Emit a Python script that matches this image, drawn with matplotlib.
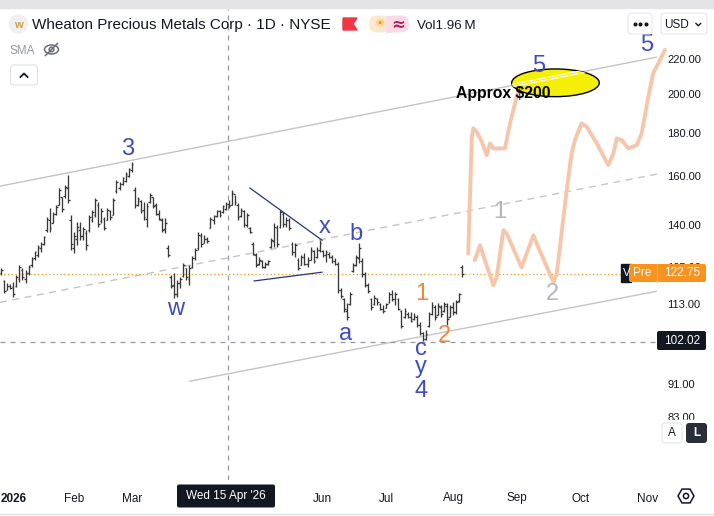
import numpy as np
import matplotlib
matplotlib.use("Agg")
import matplotlib.pyplot as plt
from matplotlib.patches import Ellipse, FancyBboxPatch, Rectangle, Polygon, Circle, RegularPolygon
from matplotlib.ticker import FixedLocator, NullLocator, FuncFormatter

plt.rcParams['font.family'] = ['Liberation Sans', 'DejaVu Sans']

# ------------------------------------------------------------------ data
# bar index 0 = 2 Jan 2026 (trading-day index); first visible bar is late Dec 2025
first_bar = -4
highs = [
    124.6, 120.6, 119.6, 119.2, 119.9, 122.2, 125.6, 124.6, 123.9, 125.6,
    128.3, 130.4, 132.6, 133.7, 135.8, 143.1, 146.7, 145.1, 147.9, 154.8,
    151.2, 156.1, 160.4, 143.9, 137.4, 141.1, 141.1, 139.3, 138.1, 143.9,
    145.9, 150.7, 149.1, 146.7, 143.1, 146.7, 145.9, 150.7, 158.3, 157.4,
    159.6, 161.7, 163.5, 166.2, 155.2, 151.2, 149.9, 149.1, 148.7, 152.8,
    151.2, 148.7, 145.9, 142.7, 142.7, 132.6, 122.2, 122.9, 120.6, 121.6,
    126.3, 124.6, 125.6, 128.7, 131.5, 137.4, 137.0, 136.2, 135.5, 143.1,
    143.9, 145.9, 145.9, 147.9, 149.1, 149.9, 154.0, 152.0, 148.7, 146.7,
    145.9, 144.7, 139.3, 133.7, 129.7, 128.3, 127.3, 126.6, 127.3, 135.1,
    140.8, 140.0, 145.9, 145.1, 143.1, 142.7, 133.7, 133.3, 128.0, 129.0,
    129.7, 128.3, 131.9, 130.8, 131.9, 134.4, 130.8, 130.8, 130.1, 129.0,
    128.0, 126.6, 118.0, 114.8, 113.3, 116.8, 126.3, 129.0, 133.3, 128.0,
    123.2, 119.6, 114.8, 115.8, 114.8, 113.3, 112.7, 113.3, 116.8, 117.3,
    116.8, 114.8, 111.1, 111.7, 110.5, 110.5, 110.2, 109.6, 107.5, 104.6,
    105.2, 110.5, 113.6, 112.7, 113.3, 112.7, 113.6, 113.3, 112.7, 113.6,
    114.2, 116.4, 125.6,
]
lows = [
    122.2, 116.4, 117.3, 117.6, 115.2, 118.3, 119.9, 120.6, 119.6, 122.2,
    124.9, 127.3, 128.3, 130.1, 132.6, 137.4, 137.4, 140.8, 143.9, 147.9,
    145.1, 150.7, 148.7, 130.8, 129.7, 132.6, 134.4, 134.4, 130.8, 137.4,
    141.1, 143.1, 139.3, 140.8, 138.1, 141.9, 141.9, 143.9, 152.8, 154.0,
    156.1, 157.4, 159.6, 161.7, 146.7, 147.5, 144.7, 141.9, 139.3, 148.7,
    146.7, 143.9, 141.9, 137.4, 137.0, 128.3, 117.9, 114.8, 115.2, 117.9,
    121.6, 120.6, 118.9, 124.6, 127.3, 130.8, 131.9, 133.3, 133.3, 138.9,
    140.4, 143.1, 143.1, 144.7, 145.9, 146.7, 147.9, 147.9, 141.9, 143.1,
    139.3, 139.3, 137.0, 129.0, 124.9, 125.6, 124.6, 124.6, 125.6, 131.5,
    131.9, 131.9, 138.9, 139.3, 139.3, 138.1, 129.0, 128.3, 123.9, 125.6,
    125.6, 124.9, 127.3, 126.3, 128.0, 130.1, 128.3, 126.6, 128.0, 126.3,
    125.6, 116.4, 114.8, 110.5, 108.1, 112.7, 123.2, 125.3, 126.3, 121.6,
    118.3, 116.4, 111.1, 112.7, 112.7, 111.1, 110.2, 111.7, 113.3, 113.9,
    112.7, 111.1, 105.8, 108.7, 108.7, 107.5, 108.1, 106.1, 103.8, 102.1,
    102.4, 106.1, 109.6, 108.1, 109.6, 109.0, 110.5, 106.7, 109.0, 109.6,
    109.9, 113.6, 121.6,
]
opens = [
    123.0, 120.2, 117.5, 118.5, 118.2, 118.5, 121.0, 124.0, 121.0, 123.0,
    125.5, 128.0, 129.0, 131.5, 133.0, 138.0, 142.0, 141.0, 144.5, 148.0,
    151.0, 151.5, 155.0, 142.0, 131.5, 135.0, 138.0, 136.0, 137.0, 138.0,
    142.0, 144.0, 148.0, 141.5, 142.5, 142.0, 145.5, 144.0, 153.5, 155.0,
    156.5, 158.0, 160.0, 162.5, 154.0, 148.0, 149.5, 146.0, 142.5, 149.0,
    151.0, 148.0, 144.5, 142.0, 138.5, 131.5, 121.5, 119.0, 116.0, 119.5,
    122.0, 124.5, 121.0, 125.0, 128.0, 131.5, 136.0, 133.5, 135.0, 139.0,
    142.0, 143.5, 145.5, 145.0, 146.5, 148.5, 148.0, 152.5, 148.0, 143.5,
    145.5, 140.0, 139.0, 133.0, 129.0, 126.0, 127.0, 125.0, 126.0, 132.0,
    134.0, 139.0, 139.5, 144.5, 140.5, 142.0, 133.0, 130.0, 127.5, 125.5,
    128.5, 126.0, 127.5, 130.5, 128.5, 131.0, 130.5, 129.0, 129.5, 128.5,
    127.0, 126.0, 117.5, 114.5, 111.0, 113.0, 123.5, 125.5, 128.0, 127.0,
    122.5, 119.0, 114.5, 113.0, 114.5, 113.0, 111.5, 111.8, 113.5, 116.0,
    114.5, 114.5, 111.0, 109.0, 110.0, 109.0, 108.5, 109.0, 106.8, 104.3,
    102.8, 106.5, 110.0, 112.0, 109.8, 112.0, 110.8, 112.5, 109.2, 112.0,
    110.5, 114.0, 125.0,
]
closes = [
    123.8, 117.0, 118.8, 118.0, 116.0, 121.5, 124.8, 121.5, 123.0, 125.0,
    127.8, 130.0, 132.0, 133.0, 135.5, 142.5, 139.0, 144.5, 147.0, 154.0,
    146.5, 155.5, 150.0, 133.0, 136.0, 139.5, 136.0, 138.5, 132.5, 143.0,
    145.0, 150.0, 140.5, 145.5, 139.0, 146.0, 143.0, 150.0, 157.5, 156.5,
    159.0, 161.0, 163.0, 165.5, 148.0, 150.5, 145.5, 143.0, 147.5, 152.0,
    147.5, 144.5, 142.5, 138.0, 141.0, 129.0, 118.5, 116.0, 119.5, 121.0,
    125.5, 121.5, 124.5, 128.0, 131.0, 136.5, 133.0, 135.0, 134.0, 142.5,
    143.5, 145.5, 144.0, 147.5, 148.5, 147.5, 153.0, 149.0, 143.0, 146.0,
    140.5, 144.0, 137.5, 129.5, 125.5, 127.5, 125.0, 126.0, 127.0, 134.5,
    139.5, 133.0, 145.0, 140.5, 142.0, 139.0, 130.0, 132.5, 124.5, 128.5,
    126.0, 127.5, 131.0, 127.0, 131.0, 133.5, 129.0, 130.0, 128.5, 127.0,
    126.0, 117.5, 115.5, 111.5, 109.0, 116.0, 125.5, 128.5, 131.5, 122.5,
    119.0, 117.0, 112.0, 115.0, 113.5, 111.5, 110.8, 113.0, 116.0, 114.5,
    116.0, 111.5, 106.5, 111.0, 109.0, 108.0, 109.5, 106.8, 104.5, 102.6,
    104.0, 110.0, 112.8, 109.0, 112.5, 110.0, 113.0, 108.5, 112.0, 110.5,
    113.5, 116.0, 122.75,
]

# visible month labels (Apr/May are hidden under the crosshair date label)
month_bar_index = [0, 20, 39, 102, 123, 145, 166, 187, 209]
month_labels = ['2026', 'Feb', 'Mar', 'Jun', 'Jul', 'Aug', 'Sep', 'Oct', 'Nov']
price_ticks = [83, 91, 113, 125, 140, 160, 180, 200, 220]

premarket_price = 122.75
crosshair_price = 102.02
crosshair_bar = 70.8
crosshair_date = "Wed 15 Apr '26"

# drawn trend lines, (bar index, price) endpoints
channel_upper_x, channel_upper_y = [-4.42, 212.3], [155.7, 221.2]
channel_mid_x, channel_mid_y = [-4.42, 212.3], [113.5, 160.9]
channel_lower_x, channel_lower_y = [58.2, 212.3], [91.6, 117.0]
tri_upper_x, tri_upper_y = [78.0, 101.8], [154.9, 134.4]
tri_lower_x, tri_lower_y = [79.4, 101.8], [120.3, 123.2]

# hand-drawn projection paths
proj_a_x = [150.0, 151.2, 151.7, 152.8, 154.5, 156.1, 157.2, 158.3, 162.1, 163.8, 166.0, 166.8]
proj_a_y = [129.6, 178.1, 182.2, 180.5, 175.6, 169.4, 174.9, 172.5, 172.5, 184.7, 198.5, 202.2]
proj_b_x = [152.2, 153.9, 155.5, 158.3, 159.4, 161.6, 162.7, 167.6, 171.5, 172.6, 178.1, 179.2,
            182.5, 184.1, 185.2, 187.4, 189.1, 192.4, 196.2, 197.9, 199.0, 200.6, 202.8, 205.6,
            207.2, 209.4, 211.0, 213.8, 214.9]
proj_b_y = [127.3, 132.6, 127.3, 118.9, 121.6, 138.1, 136.9, 124.8, 136.2, 133.2, 119.9, 122.7,
            154.0, 170.2, 176.5, 184.7, 183.0, 174.9, 164.9, 170.2, 177.3, 176.5, 172.5, 174.1,
            179.7, 198.5, 211.6, 221.4, 225.5]

BLUE, ORANGE, GREY = '#3f4cbf', '#f0873a', '#b4b6bd'
wave_text = ['3', 'w', 'x', 'b', 'a', 'c', 'y', '4', '1', '2', '5', '5', '1', '2']
wave_bar = [37.7, 53.5, 102.8, 113.0, 109.4, 134.3, 134.3, 134.3, 134.7, 142.1, 173.4, 208.9, 160.3, 177.9]
wave_price = [169.4, 109.6, 137.0, 134.4, 102.4, 98.3, 93.6, 87.7, 114.2, 101.8, 212.5, 224.8, 142.7, 114.2]
wave_color = [BLUE] * 8 + [ORANGE, ORANGE, BLUE, BLUE, GREY, GREY]

target_text = 'Approx $200'
target_bar, target_price = 161.4, 197.7

# ------------------------------------------------------------------ figure
W, H = 714, 516
fig = plt.figure(figsize=(W / 100, H / 100), dpi=100)
fig.patch.set_facecolor('white')

AX_RIGHT, AX_TOP, AX_BOTTOM = 657, 9, 480
ax = fig.add_axes([0, 1 - AX_BOTTOM / H, AX_RIGHT / W, (AX_BOTTOM - AX_TOP) / H])
ax.set_yscale('log')
ax.set_xlim(-4.42, 212.27)
ax.set_ylim(70.0, 252.1)
for s in ax.spines.values():
    s.set_visible(False)
ax.yaxis.set_major_locator(FixedLocator(price_ticks))
ax.yaxis.set_minor_locator(NullLocator())
ax.yaxis.set_major_formatter(FuncFormatter(lambda v, p: f"{v:.2f}"))
ax.yaxis.tick_right()
ax.tick_params(axis='y', which='both', length=0, pad=7.2, labelsize=8, labelcolor='#131722')
ax.set_xticks(month_bar_index)
ax.set_xticklabels(month_labels)
ax.tick_params(axis='x', length=0, pad=9, labelsize=8.5, labelcolor='#131722')
ax.get_xticklabels()[0].set_fontweight('bold')

# channel and drawings
ax.plot(channel_upper_x, channel_upper_y, color='#c4c4c4', lw=1.0, zorder=1)
ax.plot(channel_lower_x, channel_lower_y, color='#c4c4c4', lw=1.0, zorder=1)
ax.plot(channel_mid_x, channel_mid_y, color='#c4c4c4', lw=1.0, ls=(0, (5, 4)), zorder=1)
ax.plot(tri_upper_x, tri_upper_y, color='#26338a', lw=0.9, zorder=2)
ax.plot(tri_lower_x, tri_lower_y, color='#26338a', lw=0.9, zorder=2)

# price lines / crosshair
ax.axhline(premarket_price, color='#f7931e', lw=0.9, ls=(0, (1, 2)), zorder=1)
ax.axhline(crosshair_price, color='#9598a1', lw=0.9, ls=(0, (4, 4)), zorder=1)
ax.axvline(crosshair_bar, color='#9598a1', lw=0.9, ls=(0, (4, 4)), zorder=1)

# OHLC bars
idx = np.arange(first_bar, first_bar + len(highs))
bar_col = '#383838'
ax.vlines(idx, lows, highs, color=bar_col, lw=0.95, zorder=4)
ax.hlines(opens, idx - 0.55, idx, color=bar_col, lw=0.95, zorder=4)
ax.hlines(closes, idx, idx + 0.55, color=bar_col, lw=0.95, zorder=4)

# projections
proj_kw = dict(color='#f6c6aa', lw=2.8, solid_capstyle='round', solid_joinstyle='round',
               zorder=5, clip_on=False)
ax.plot(proj_a_x, proj_a_y, **proj_kw)
ax.plot(proj_b_x, proj_b_y, **proj_kw)

# target ellipse
ell = Ellipse((0.8455, 0.8433), 0.1333, 0.0588, transform=ax.transAxes,
              facecolor='#f5ee05', edgecolor='black', lw=1.0, zorder=6)
ax.add_patch(ell)
l1, = ax.plot(channel_upper_x, channel_upper_y, color='white', lw=2.6, zorder=6.2)
l1.set_clip_path(ell)
l2, = ax.plot(channel_upper_x, channel_upper_y, color='#f5ee05', lw=0.9, zorder=6.3)
l2.set_clip_path(ell)

ax.text(target_bar, target_price, target_text, ha='center', va='baseline',
        fontsize=11.3, fontweight='bold', color='black', zorder=8)

for t, b, p, c in zip(wave_text, wave_bar, wave_price, wave_color):
    ax.text(b, p, t, ha='center', va='baseline', fontsize=17, color=c, zorder=7, clip_on=False)

# ------------------------------------------------------------------ UI chrome overlay (pixel coords)
ov = fig.add_axes([0, 0, 1, 1], zorder=10)
ov.set_xlim(0, W)
ov.set_ylim(H, 0)
ov.axis('off')
ov.patch.set_visible(False)

ov.add_patch(Rectangle((0, 0), W, 8, color='#e4e4e7', zorder=1))
ov.plot([0, W], [514, 514], color='#e0e3eb', lw=1)

# header
ov.add_patch(Circle((18.5, 24), 9, color='#f0f0f3'))
ov.text(18.5, 24.5, 'w', ha='center', va='center', fontsize=8, color='#c9a24a', fontweight='bold')
ov.text(32, 29.5, 'Wheaton Precious Metals Corp · 1D · NYSE', ha='left', va='baseline',
        fontsize=11, color='#131722')
ov.add_patch(Polygon([(343, 18), (357, 18), (353, 24), (357, 30), (343, 30)], closed=True,
                     color='#f23645'))
ov.add_patch(FancyBboxPatch((369, 15.5), 20, 17, boxstyle='round,pad=0,rounding_size=8',
                            fc='#fde8cf', ec='none'))
ov.add_patch(FancyBboxPatch((386, 15.5), 23, 17, boxstyle='round,pad=0,rounding_size=8',
                            fc='#f9dbe6', ec='none'))
ov.add_patch(Rectangle((386, 15.5), 6, 17, fc='#f9dbe6', ec='none'))
ov.text(379, 24.5, '\u2600', ha='center', va='center', fontsize=8, color='#ff9800',
        family='DejaVu Sans')
ov.text(398.5, 24.5, '\u2248', ha='center', va='center', fontsize=12, color='#c2185b',
        family='DejaVu Sans', fontweight='bold')
ov.text(417, 29.3, 'Vol1.96\u2009M', ha='left', va='baseline', fontsize=9.6, color='#131722',
        family=['Liberation Sans', 'DejaVu Sans'])

ov.text(9, 53.5, 'SMA', ha='left', va='baseline', fontsize=8.5, color='#9598a1')
ov.add_patch(Ellipse((51.5, 49.5), 14, 9, fill=False, ec='#6a6d78', lw=1.1))
ov.add_patch(Circle((51.5, 49.5), 2.3, fill=False, ec='#6a6d78', lw=1.1))
ov.plot([45.5, 57.5], [55.5, 43.5], color='#6a6d78', lw=1.1)

ov.add_patch(FancyBboxPatch((10.5, 65), 27, 20, boxstyle='round,pad=0,rounding_size=3',
                            fc='white', ec='#dfe1e6', lw=0.8))
ov.plot([20.5, 24, 27.5], [77, 73.5, 77], color='#131722', lw=1.3)

# top-right buttons
ov.add_patch(FancyBboxPatch((628, 13), 24, 21, boxstyle='round,pad=0,rounding_size=3',
                            fc='white', ec='#e6e8ee', lw=0.8))
ov.plot([634.5, 640, 645.5], [23.5, 23.5, 23.5], 'o', ms=1.9, color='#131722')
ov.add_patch(FancyBboxPatch((661, 13), 46, 21, boxstyle='round,pad=0,rounding_size=3',
                            fc='white', ec='#e6e8ee', lw=0.8))
ov.text(664, 28.5, 'USD', ha='left', va='baseline', fontsize=8.5, color='#131722')
ov.plot([696, 698.3, 700.6], [23.5, 25.8, 23.5], color='#131722', lw=1.0)

# price-scale labels
ov.add_patch(Rectangle((621, 264), 10, 18, color='#131722'))
ov.text(627, 273.5, 'V', ha='center', va='center', fontsize=8, color='white')
ov.add_patch(FancyBboxPatch((629, 264), 77, 18, boxstyle='round,pad=0,rounding_size=2',
                            fc='#f7931e', ec='none'))
ov.plot([657, 657], [264, 282], color='#fbb86a', lw=0.8)
ov.text(642, 273.5, 'Pre', ha='center', va='center', fontsize=8.5, color='white')
ov.text(682, 273.5, f'{premarket_price:.2f}', ha='center', va='center', fontsize=8.5, color='white')

ov.add_patch(FancyBboxPatch((657, 331), 49, 19, boxstyle='round,pad=0,rounding_size=2',
                            fc='#131722', ec='none'))
ov.text(682, 340.8, f'{crosshair_price:.2f}', ha='center', va='center', fontsize=8.5, color='white')

ov.add_patch(Rectangle((659, 420), 55, 26, color='white'))
ov.add_patch(FancyBboxPatch((662, 423), 20, 20, boxstyle='round,pad=0,rounding_size=3',
                            fc='white', ec='#e0e3eb', lw=0.8))
ov.text(672, 433.5, 'A', ha='center', va='center', fontsize=8.5, color='#131722')
ov.add_patch(FancyBboxPatch((686, 423), 21, 20, boxstyle='round,pad=0,rounding_size=3',
                            fc='#2a2e39', ec='none'))
ov.text(696.5, 433.5, 'L', ha='center', va='center', fontsize=8.5, color='white', fontweight='bold')

# time-axis crosshair label
ov.add_patch(FancyBboxPatch((177, 484.5), 98, 23, boxstyle='round,pad=0,rounding_size=2',
                            fc='#131722', ec='none'))
ov.text(226, 496.5, crosshair_date, ha='center', va='center', fontsize=8.5, color='white')

# settings icon
ov.add_patch(RegularPolygon((686, 496), 6, radius=8, orientation=np.pi / 6, fill=False,
                            ec='#131722', lw=1.1))
ov.add_patch(Circle((686, 496), 2.6, fill=False, ec='#131722', lw=1.1))

fig.savefig('out.png', dpi=100, facecolor='white')
